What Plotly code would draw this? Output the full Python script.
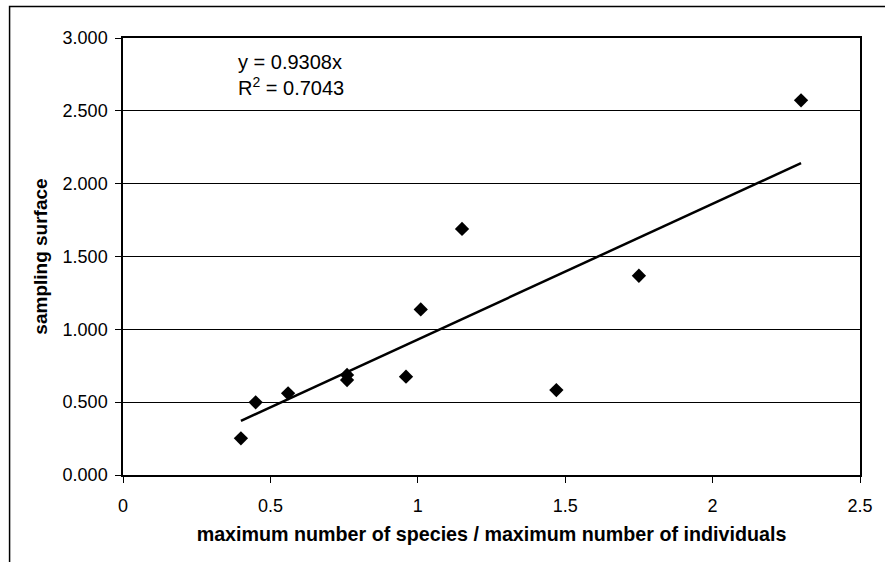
import plotly.graph_objects as go

# data
ratio = [0.40, 0.45, 0.56, 0.76, 0.76, 0.96, 1.01, 1.15, 1.47, 1.75, 2.30]
surface = [0.252, 0.499, 0.561, 0.652, 0.687, 0.675, 1.137, 1.689, 0.583, 1.368, 2.572]
slope = 0.9308
r2 = 0.7043
x_ticks = [0, 0.5, 1, 1.5, 2, 2.5]
y_ticks = [0, 0.5, 1, 1.5, 2, 2.5, 3]

FONT = "Liberation Sans, Arial, sans-serif"

fig = go.Figure()
fig.add_trace(go.Scatter(
    x=ratio, y=surface, mode="markers",
    marker=dict(symbol="diamond", size=11, color="black"),
    showlegend=False, hoverinfo="skip"))

xl = [min(ratio), max(ratio)]
fig.add_trace(go.Scatter(
    x=xl, y=[slope * v for v in xl], mode="lines",
    line=dict(color="black", width=2.5), showlegend=False, hoverinfo="skip"))

fig.add_annotation(
    xref="paper", yref="paper", x=(237 - 123) / 744, y=(475 - 49) / 437,
    xanchor="left", yanchor="top", align="left", showarrow=False,
    text=f"y = {slope:.4f}x<br>R<sup>2</sup> = {r2:.4f}",
    font=dict(family=FONT, size=20, color="black"))

# outer chart border
fig.add_shape(type="rect", xref="paper", yref="paper",
              x0=(8.5 - 123) / 744, x1=(1100 - 123) / 744,
              y0=(475 - 700) / 437, y1=(475 - 6.5) / 437,
              line=dict(color="black", width=1.5), fillcolor="rgba(0,0,0,0)")

fig.update_layout(
    width=885, height=562,
    margin=dict(l=123, r=18, t=38, b=87),
    paper_bgcolor="white", plot_bgcolor="white",
    font=dict(family=FONT, size=18, color="black"),
    xaxis=dict(range=[0, 2.5], tickvals=x_ticks, ticktext=[f"{v:g}" for v in x_ticks],
               showgrid=False, zeroline=False, showline=True, linecolor="black",
               linewidth=1.5, mirror=True, ticks="outside", ticklen=6,
               tickcolor="black", tickwidth=1, ticklabelstandoff=8,
               title=dict(text="<b>maximum number of species / maximum number of individuals</b>",
                          font=dict(size=19.7), standoff=12)),
    yaxis=dict(range=[0, 3], tickvals=y_ticks, ticktext=[f"{v:.3f}" for v in y_ticks],
               showgrid=True, gridcolor="black", gridwidth=1, zeroline=False,
               showline=True, linecolor="black", linewidth=1.5, mirror=True,
               ticks="outside", ticklen=6, tickcolor="black", tickwidth=1,
               ticklabelstandoff=4,
               title=dict(text="<b>sampling surface</b>", font=dict(size=19), standoff=10)),
)

fig.write_html("out.html")
